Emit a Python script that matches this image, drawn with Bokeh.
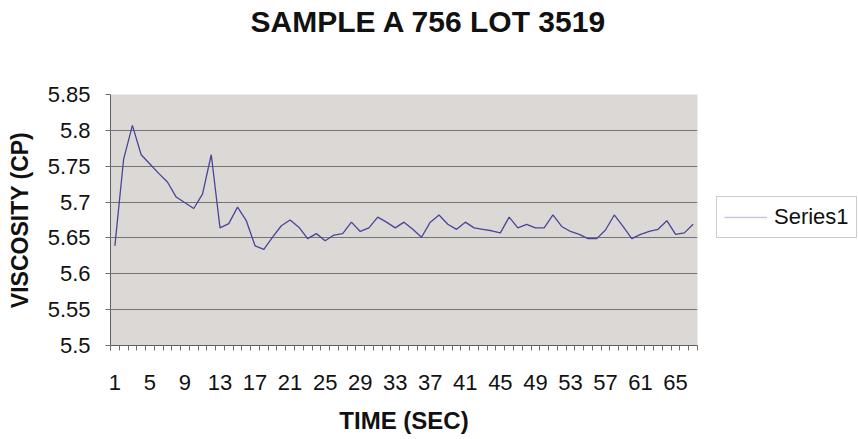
from bokeh.plotting import figure
from bokeh.models import FixedTicker, Legend, LegendItem, Range1d, Title
from bokeh.embed import file_html
from bokeh.resources import INLINE

time_sec = list(range(1, 68))
viscosity = [5.639, 5.760, 5.807, 5.766, 5.753, 5.740, 5.728, 5.707, 5.699, 5.691,
             5.711, 5.766, 5.664, 5.670, 5.693, 5.674, 5.639, 5.634, 5.651, 5.667,
             5.675, 5.665, 5.649, 5.656, 5.646, 5.654, 5.656, 5.672, 5.659, 5.664,
             5.679, 5.672, 5.664, 5.672, 5.662, 5.651, 5.672, 5.682, 5.669, 5.662,
             5.672, 5.664, 5.662, 5.660, 5.657, 5.679, 5.664, 5.669, 5.664, 5.664,
             5.682, 5.666, 5.659, 5.655, 5.649, 5.649, 5.661, 5.682, 5.666, 5.649,
             5.655, 5.659, 5.662, 5.674, 5.655, 5.657, 5.669]
x_tick_labels = list(range(1, 68, 4))
y_ticks = [5.5, 5.55, 5.6, 5.65, 5.7, 5.75, 5.8, 5.85]
series_name = "Series1"
title_text = "SAMPLE A 756 LOT 3519"

FONT = "Liberation Sans"

p = figure(frame_width=587, frame_height=251, output_backend="svg", toolbar_location=None,
           min_border_left=110, min_border_right=159, min_border_top=94,
           min_border_bottom=91, background_fill_color="#dcd8d5",
           border_fill_color="white", outline_line_color=None)
p.title.text = ""

# spacer between frame and title (nearest to the frame)
spacer = Title(text=" ", text_font=FONT, text_font_size="1px", standoff=54,
               text_color="white")
p.add_layout(spacer, "above")

t = Title(text=title_text, align="left", offset=140, text_font=FONT,
          text_font_size="30px", text_font_style="bold", text_color="#111111",
          standoff=0)
p.add_layout(t, "above")

p.x_range = Range1d(0.5, len(time_sec) + 0.5)
p.y_range = Range1d(5.5, 5.85)

line_r = p.line(time_sec, viscosity, line_color="#4a4599", line_width=1.3)
legend_r = p.line(time_sec[:1], viscosity[:1], line_color="#c9c5e6", line_width=1.3)

# axes
xa = p.xaxis[0]
xa.ticker = FixedTicker(ticks=x_tick_labels,
                        minor_ticks=[i + 0.5 for i in range(0, len(time_sec) + 1)])
xa.major_tick_out = 0
xa.major_tick_in = 0
xa.minor_tick_out = 5
xa.minor_tick_in = 0
xa.minor_tick_line_color = "#707070"
xa.axis_line_color = "#606060"
xa.major_label_text_font = FONT
xa.major_label_text_font_size = "22px"
xa.major_label_text_color = "#111111"
xa.major_label_standoff = 24
xa.axis_label = "TIME (SEC)"
xa.axis_label_text_font = FONT
xa.axis_label_text_font_size = "24px"
xa.axis_label_text_font_style = "bold"
xa.axis_label_text_color = "#111111"
xa.axis_label_standoff = 14

ya = p.yaxis[0]
ya.ticker = FixedTicker(ticks=y_ticks)
ya.major_tick_out = 5
ya.major_tick_in = 0
ya.minor_tick_line_color = None
ya.major_tick_line_color = "#707070"
ya.axis_line_color = "#606060"
ya.major_label_text_font = FONT
ya.major_label_text_font_size = "22px"
ya.major_label_text_color = "#111111"
ya.major_label_standoff = 15
ya.axis_label = "VISCOSITY (CP)"
ya.axis_label_text_font = FONT
ya.axis_label_text_font_size = "23px"
ya.axis_label_text_font_style = "bold"
ya.axis_label_text_color = "#111111"
ya.axis_label_standoff = 12

p.xgrid.grid_line_color = None
p.ygrid.grid_line_color = "#737373"
p.ygrid.grid_line_width = 1

legend = Legend(items=[LegendItem(label=series_name, renderers=[legend_r])],
                location=(19, 107), border_line_color="#9a9a9a",
                background_fill_color="white", background_fill_alpha=1,
                label_text_font=FONT, label_text_font_size="22px",
                label_text_color="#111111", glyph_width=43, label_standoff=7,
                padding=7, margin=0, spacing=0)
p.add_layout(legend, "right")

open("out.html", "w").write(file_html(p, INLINE))
